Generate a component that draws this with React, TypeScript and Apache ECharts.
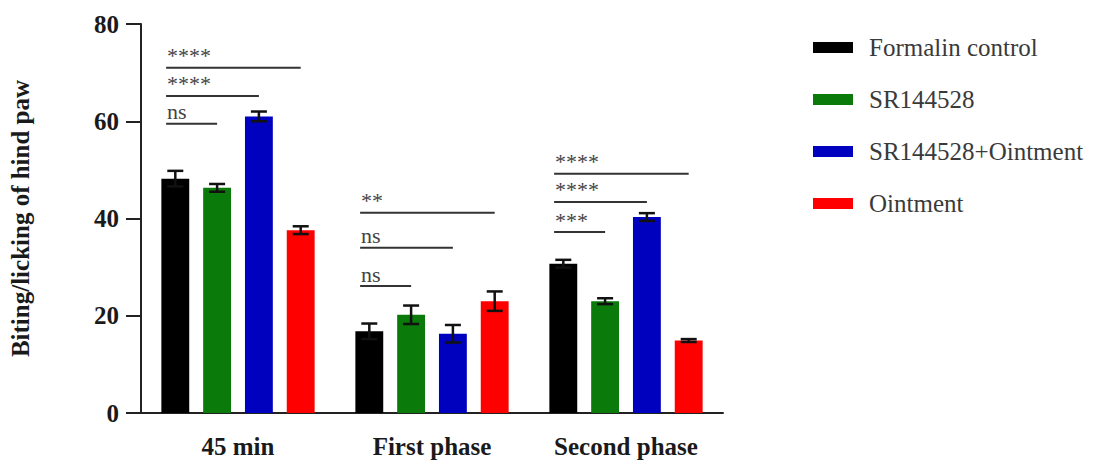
import React, { useEffect, useRef } from "react";
import * as echarts from "echarts";

// Phases on the x axis
const categories = ["45 min", "First phase", "Second phase"];

// Treatment groups (bar series)
const groupNames = ["Formalin control", "SR144528", "SR144528+Ointment", "Ointment"];
const groupColors = ["#000000", "#0a7a0a", "#0000bf", "#ff0000"];

// Mean biting/licking per group, one value per phase
const formalinMean = [48.2, 16.8, 30.7];
const sr144528Mean = [46.3, 20.2, 23.0];
const srOintmentMean = [61.0, 16.3, 40.3];
const ointmentMean = [37.6, 23.0, 14.9];

// Standard errors per group, one value per phase
const formalinErr = [1.6, 1.6, 0.8];
const sr144528Err = [0.8, 1.9, 0.6];
const srOintmentErr = [1.0, 1.8, 0.8];
const ointmentErr = [0.8, 2.0, 0.3];

const means = [formalinMean, sr144528Mean, srOintmentMean, ointmentMean];
const errs = [formalinErr, sr144528Err, srOintmentErr, ointmentErr];

// Significance brackets: phase index, from bar, to bar, height (y units), label
const bracketPhase = [0, 0, 0, 1, 1, 1, 2, 2, 2];
const bracketFrom = [0, 0, 0, 0, 0, 0, 0, 0, 0];
const bracketTo = [1, 2, 3, 1, 2, 3, 1, 2, 3];
const bracketLevel = [59.5, 65.2, 71.0, 26.1, 34.0, 41.2, 37.2, 43.4, 49.2];
const bracketLabel = ["ns", "****", "****", "ns", "ns", "**", "***", "****", "****"];

// Y axis ticks
const yMin = 0;
const yMax = 80;
const yStep = 20;

const BAR_CATEGORY_GAP = 0.21;
const BAR_GAP = 0.5;

// Horizontal centre of bar `bar` inside a category band
function barCenter(catCenterX: number, bandWidth: number, bar: number) {
  const usable = bandWidth * (1 - BAR_CATEGORY_GAP);
  const n = groupNames.length;
  const w = usable / (n + (n - 1) * BAR_GAP);
  return { x: catCenterX - usable / 2 + w / 2 + bar * w * (1 + BAR_GAP), w };
}

export default function App() {
  const ref = useRef<HTMLDivElement>(null);

  useEffect(() => {
    if (!ref.current) return;
    const chart = echarts.init(ref.current, undefined, { renderer: "svg" });

    const serif = "Liberation Serif";

    const barSeries = groupNames.map((name, i) => ({
      name,
      type: "bar",
      data: means[i],
      itemStyle: { color: groupColors[i] },
      barGap: `${BAR_GAP * 100}%`,
      barCategoryGap: `${BAR_CATEGORY_GAP * 100}%`,
      z: 2,
    }));

    const errorData: number[][] = [];
    means.forEach((arr, s) =>
      arr.forEach((m, c) => errorData.push([c, m, errs[s][c], s]))
    );

    const bracketData = bracketPhase.map((p, i) => [p, bracketLevel[i]]);

    const option: any = {
      animation: false,
      backgroundColor: "#ffffff",
      textStyle: { fontFamily: serif },
      grid: { left: 140, right: 370, top: 24, bottom: 51, containLabel: false },
      legend: {
        orient: "vertical",
        left: 808,
        top: 30,
        itemWidth: 40,
        itemHeight: 11,
        itemGap: 27,
        icon: "rect",
        data: groupNames,
        textStyle: {
          fontFamily: serif,
          fontSize: 25,
          color: "#3a3a3a",
          lineHeight: 25,
          padding: [0, 0, 0, 11],
        },
      },
      xAxis: {
        type: "category",
        data: categories,
        axisLine: { lineStyle: { color: "#222", width: 2 } },
        axisTick: { alignWithLabel: true, length: 12, lineStyle: { color: "#222", width: 2 } },
        axisLabel: {
          margin: 21,
          fontFamily: serif,
          fontSize: 25,
          fontWeight: "bold",
          color: "#1a1a1a",
        },
      },
      yAxis: {
        type: "value",
        min: yMin,
        max: yMax,
        interval: yStep,
        name: "Biting/licking of hind paw",
        nameLocation: "middle",
        nameGap: 108,
        nameTextStyle: {
          fontFamily: serif,
          fontSize: 25,
          fontWeight: "bold",
          color: "#1a1a1a",
        },
        splitLine: { show: false },
        axisLine: { show: true, lineStyle: { color: "#222", width: 2 } },
        axisTick: { show: true, length: 15, lineStyle: { color: "#222", width: 2 } },
        axisLabel: {
          margin: 22,
          fontFamily: serif,
          fontSize: 25,
          fontWeight: "bold",
          color: "#1a1a1a",
        },
      },
      series: [
        ...barSeries,
        {
          type: "custom",
          name: "error",
          data: errorData,
          encode: { x: 0, y: 1 },
          z: 5,
          silent: true,
          renderItem: (params: any, api: any) => {
            const c = api.value(0);
            const m = api.value(1);
            const e = api.value(2);
            const s = api.value(3);
            const mid = api.coord([c, m]);
            const band = api.size([1, 0])[0];
            const { x } = barCenter(mid[0], band, s);
            const top = api.coord([c, m + e])[1];
            const bot = api.coord([c, m - e])[1];
            const cap = 8;
            const style = { stroke: "#111", lineWidth: 2.5 };
            return {
              type: "group",
              children: [
                { type: "line", shape: { x1: x, y1: top, x2: x, y2: bot }, style },
                { type: "line", shape: { x1: x - cap, y1: top, x2: x + cap, y2: top }, style },
                { type: "line", shape: { x1: x - cap, y1: bot, x2: x + cap, y2: bot }, style },
              ],
            };
          },
        },
        {
          type: "custom",
          name: "significance",
          data: bracketData,
          encode: { x: 0, y: 1 },
          z: 6,
          silent: true,
          renderItem: (params: any, api: any) => {
            const i = params.dataIndex;
            const c = api.value(0);
            const lvl = api.value(1);
            const p = api.coord([c, lvl]);
            const band = api.size([1, 0])[0];
            const from = barCenter(p[0], band, bracketFrom[i]);
            const to = barCenter(p[0], band, bracketTo[i]);
            const x1 = from.x - from.w * 0.33;
            const x2 = to.x;
            return {
              type: "group",
              children: [
                {
                  type: "line",
                  shape: { x1, y1: p[1], x2, y2: p[1] },
                  style: { stroke: "#333", lineWidth: 2 },
                },
                {
                  type: "text",
                  x: x1 + 1,
                  y: p[1] - 1,
                  style: {
                    text: bracketLabel[i],
                    fill: "#444",
                    font: `22px ${serif}`,
                    textAlign: "left",
                    textVerticalAlign: "bottom",
                  },
                },
              ],
            };
          },
        },
      ],
    };

    chart.setOption(option);
    return () => chart.dispose();
  }, []);

  return (
    <div
      ref={ref}
      style={{ position: "absolute", left: 0, top: 0, width: 1093, height: 464 }}
    />
  );
}
